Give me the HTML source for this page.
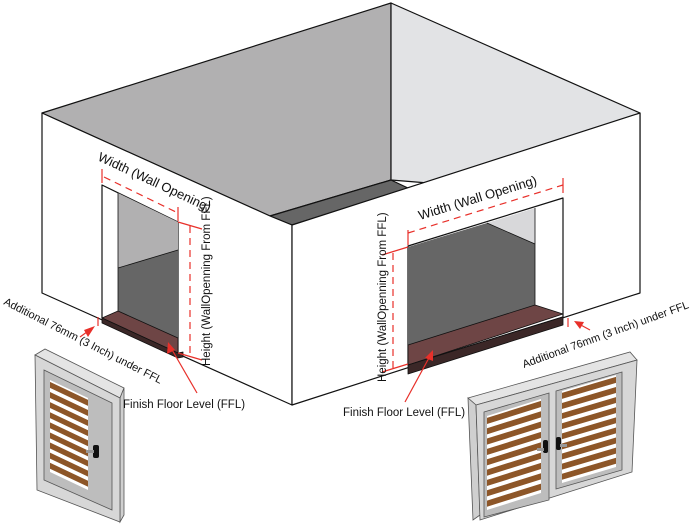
<!DOCTYPE html>
<html><head><meta charset="utf-8"><style>
html,body{margin:0;padding:0;background:#fff}
svg{display:block}
text{font-family:"Liberation Sans",sans-serif;fill:#111}
</style></head><body>
<svg width="691" height="524" viewBox="0 0 691 524" xmlns="http://www.w3.org/2000/svg">
<defs>
<g id="slats">
<rect x="0" y="0" width="1" height="1" fill="#fff"/>
<rect x="0" y="0.02" width="1" height="0.065" fill="#8d5628"/>
<rect x="0" y="0.13" width="1" height="0.065" fill="#8d5628"/>
<rect x="0" y="0.24" width="1" height="0.065" fill="#8d5628"/>
<rect x="0" y="0.35" width="1" height="0.065" fill="#8d5628"/>
<rect x="0" y="0.46" width="1" height="0.065" fill="#8d5628"/>
<rect x="0" y="0.57" width="1" height="0.065" fill="#8d5628"/>
<rect x="0" y="0.68" width="1" height="0.065" fill="#8d5628"/>
<rect x="0" y="0.79" width="1" height="0.065" fill="#8d5628"/>
<rect x="0" y="0.90" width="1" height="0.065" fill="#8d5628"/>
</g>
</defs>
<g stroke="#111" stroke-width="1.2" stroke-linejoin="round">
<polygon points="42,113 391,3 391,180 270,216" fill="#b1b0b1"/>
<polygon points="391,3 640,113 640,200 391,180" fill="#e2e3e5"/>
<polygon points="270,216 391,180 410,189 292,225" fill="#666"/>
<polygon points="42,113 270,216 292,225 292,405 42,293" fill="#fff"/>
<polygon points="292,225 640,113 640,293 292,405" fill="#fff"/>
<polygon points="102,185 178,222 178,353 102,318" fill="#fff"/>
<polygon points="118,193 178,222 178,250 118,268" fill="#b1b0b1" stroke="none"/>
<polygon points="118,268 178,250 178,340 118,312" fill="#666" stroke="none"/>
<line x1="118" y1="193" x2="118" y2="312" stroke-width="0.8"/>
<line x1="118" y1="268" x2="178" y2="250" stroke-width="0.8"/>
<polygon points="102,318 118,311 178,338 178,353" fill="#6e4545" stroke-width="0.8"/>
<polygon points="102,318 178,353 183,352 183,357 178,358 102,323" fill="#3b2727" stroke-width="0.8"/>
<polygon points="408,246 563,198 563,317 408,365" fill="#fff"/>
<polygon points="408,247 487,223 535,244 535,305 408,345" fill="#666" stroke="none"/>
<polygon points="487,223 535,208 535,244" fill="#d8d8da" stroke="none"/>
<line x1="535" y1="208" x2="535" y2="305" stroke-width="0.8"/>
<line x1="487" y1="223" x2="535" y2="244" stroke-width="0.8"/>
<polygon points="408,345 535,305 563,314 408,365" fill="#6e4545" stroke-width="0.8"/>
<polygon points="408,365 563,317 563,325 408,374" fill="#3b2727" stroke-width="0.8"/>
</g>
<g stroke="#e8302a" stroke-width="1.2" fill="none">
<line x1="102" y1="169" x2="102" y2="183"/>
<line x1="178" y1="207" x2="178" y2="221"/>
<line x1="104" y1="177" x2="178" y2="213" stroke-dasharray="7,5"/>
<line x1="190" y1="226" x2="190" y2="355" stroke-dasharray="7,5"/>
<line x1="178" y1="222" x2="202" y2="229"/>
<line x1="178" y1="353" x2="202" y2="360"/>
<line x1="98" y1="317" x2="98" y2="326"/>
<line x1="408" y1="230" x2="408" y2="245"/>
<line x1="563" y1="178" x2="563" y2="193"/>
<line x1="408" y1="233" x2="563" y2="185" stroke-dasharray="7,5"/>
<line x1="393" y1="253" x2="393" y2="370" stroke-dasharray="7,5"/>
<line x1="382" y1="255" x2="408" y2="247"/>
<line x1="382" y1="372" x2="408" y2="364"/>
<line x1="568" y1="318" x2="568" y2="327"/>
<line x1="80" y1="337" x2="91" y2="329"/>
<line x1="197" y1="393" x2="171" y2="348"/>
<line x1="405" y1="402" x2="430" y2="356"/>
<line x1="590" y1="330" x2="579" y2="324"/>
</g>
<g fill="#e8302a">
<polygon points="95,326 84,330 88,337"/>
<polygon points="168,342 167,354 175,350"/>
<polygon points="433,350 425,358 433,361"/>
<polygon points="574,321 584,322 580,329"/>
</g>
<!-- left door -->
<g stroke="#555" stroke-width="0.8">
<polygon points="35,355 45,349 124,388 120,398" fill="#e4e4e4"/>
<polygon points="120,398 124,388 124,515 120,522" fill="#cfcfcf"/>
<polygon points="35,355 120,398 120,522 37,490" fill="#d7d7d7"/>
<polygon points="44,370 112,403 112,510 44,480" fill="#bdbdbd"/>
</g>
<g transform="matrix(38,18,0,92,50,380)"><use href="#slats"/></g>
<rect x="93" y="445" width="6" height="13" rx="2" fill="#111"/>
<rect x="86" y="450" width="8" height="3" fill="#999"/>
<!-- right door -->
<g stroke="#555" stroke-width="0.8">
<polygon points="468,398 630,352 637,360 476,405" fill="#e4e4e4"/>
<polygon points="468,398 476,405 480,515 473,520" fill="#cfcfcf"/>
<polygon points="476,405 637,360 632,472 480,520" fill="#d7d7d7"/>
<polygon points="484,412 549,393 549,500 484,517" fill="#bdbdbd"/>
<polygon points="556,391 622,372 622,470 556,489" fill="#bdbdbd"/>
</g>
<g transform="matrix(54,-17,0,94,487,416)"><use href="#slats"/></g>
<g transform="matrix(54,-16,0,92,562,391)"><use href="#slats"/></g>
<rect x="543" y="440" width="5" height="13" rx="2" fill="#111"/>
<rect x="556" y="437" width="5" height="13" rx="2" fill="#111"/>
<rect x="537" y="448" width="7" height="3" fill="#999"/>
<rect x="560" y="444" width="7" height="3" fill="#999"/>
<!-- labels -->
<text x="0" y="0" font-size="13" transform="translate(97,160) rotate(25)">Width (Wall Opening)</text>
<text x="0" y="0" font-size="11.5" transform="translate(210,366) rotate(-90)">Height (WallOpenning From FFL)</text>
<text x="0" y="0" font-size="11" transform="translate(3,304) rotate(27)">Additional 76mm (3 Inch) under FFL</text>
<text x="123" y="408" font-size="11.5">Finish Floor Level (FFL)</text>
<text x="0" y="0" font-size="13" transform="translate(420,220) rotate(-17)">Width (Wall Opening)</text>
<text x="0" y="0" font-size="11.5" transform="translate(386,382) rotate(-90)">Height (WallOpenning From FFL)</text>
<text x="0" y="0" font-size="11" transform="translate(524,368) rotate(-20)">Additional 76mm (3 Inch) under FFL</text>
<text x="343" y="416" font-size="11.5">Finish Floor Level (FFL)</text>
</svg>
</body></html>
